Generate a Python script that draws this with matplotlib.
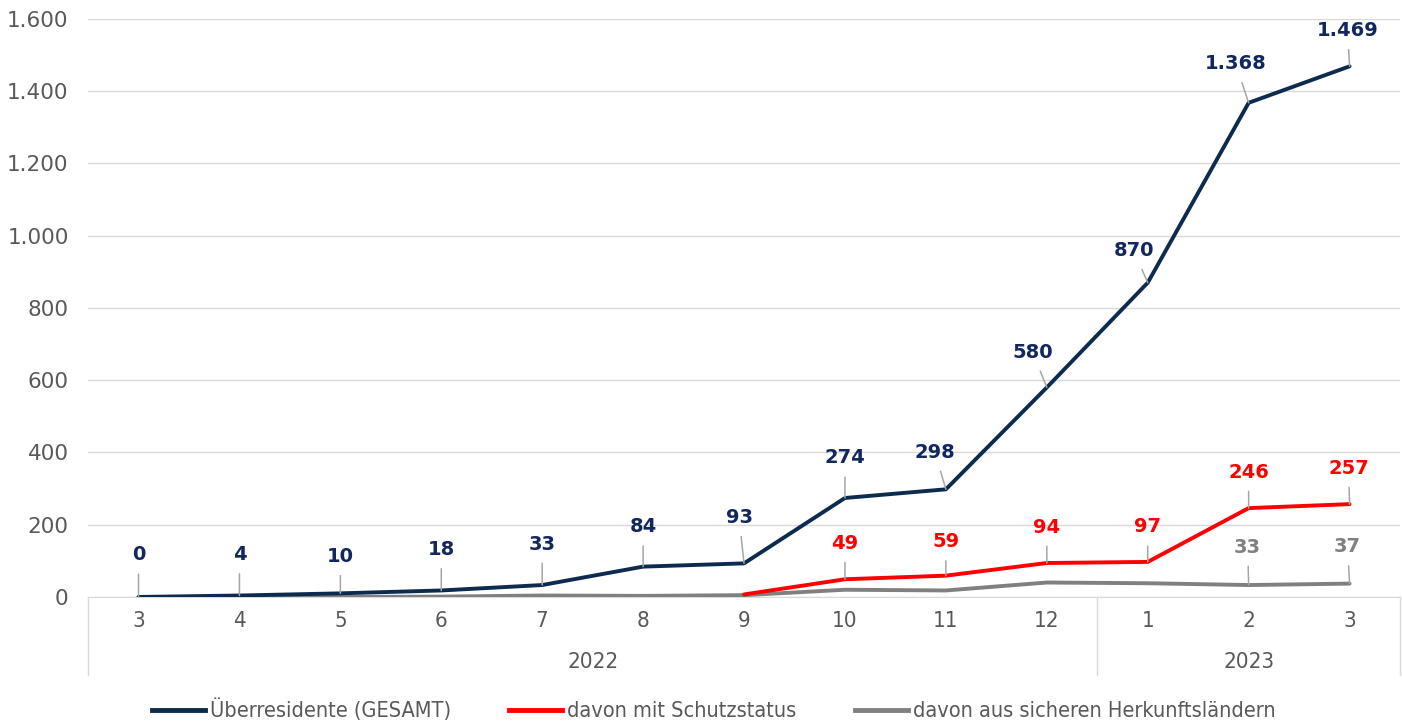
import numpy as np
import matplotlib
matplotlib.use("Agg")
import matplotlib.pyplot as plt
import matplotlib.transforms as mtransforms

# Monate Maerz 2022 bis Maerz 2023
months = ["3", "4", "5", "6", "7", "8", "9", "10", "11", "12", "1", "2", "3"]
years = ["2022", "2023"]
year_span = [(0, 9), (10, 12)]

gesamt = [0, 4, 10, 18, 33, 84, 93, 274, 298, 580, 870, 1368, 1469]
schutz = [np.nan, np.nan, np.nan, np.nan, np.nan, np.nan, 7, 49, 59, 94, 97, 246, 257]
sicher = [0, 0, 0, 1, 4, 3, 5, 20, 18, 40, 38, 33, 37]

# Label-Offsets (Pixel) fuer die Datenbeschriftungen
off_gesamt = [(0, 42), (0, 41), (0, 37), (0, 41), (0, 41), (0, 40), (-5, 46), (0, 40),
              (-11, 37), (-14, 35), (-14, 32), (-13, 39), (-2, 36)]
off_schutz = {7: (0, 36), 8: (0, 34), 9: (0, 36), 10: (0, 35), 11: (0, 36), 12: (-1, 36)}
off_sicher = {11: (-1, 38), 12: (-2, 37)}

c_navy = "#0d2b4f"
c_navy_txt = "#13275f"
c_red = "#ff0000"
c_grey = "#808080"
c_tick = "#595959"
c_lead = "#a6a6a6"

cond = dict(family="DejaVu Sans", stretch="condensed")

def de_fmt(v):
    return f"{int(v):,}".replace(",", ".")

fig = plt.figure(figsize=(14.02, 7.25), dpi=100)
ax = fig.add_axes([0.0628, 0.1766, 0.9358, 0.7972])
x = np.arange(len(months))

ax.plot(x, sicher, color=c_grey, lw=2.8, solid_capstyle="round", zorder=3)
ax.plot(x, schutz, color=c_red, lw=2.8, solid_capstyle="round", zorder=4)
ax.plot(x, gesamt, color=c_navy, lw=2.8, solid_capstyle="round", zorder=5)

def label(i, v, off, col):
    ax.annotate(de_fmt(v), xy=(i, v), xytext=off, textcoords="offset pixels",
                ha="center", va="center", fontsize=14, fontweight="bold", color=col,
                arrowprops=dict(arrowstyle="-", color=c_lead, lw=1.1,
                                shrinkA=5, shrinkB=0), zorder=6)

for i, v in enumerate(gesamt):
    label(i, v, off_gesamt[i], c_navy_txt)
for i, off in off_schutz.items():
    label(i, schutz[i], off, c_red)
for i, off in off_sicher.items():
    label(i, sicher[i], off, c_grey)

ax.set_xlim(-0.5, len(months) - 0.5)
ax.set_ylim(0, 1600)
yt = np.arange(0, 1601, 200)
ax.set_yticks(yt)
ax.set_yticklabels([de_fmt(t) for t in yt], fontsize=15.5, color=c_tick)
ax.set_xticks(x)
ax.set_xticklabels(months, fontsize=16, color=c_tick, **cond)
ax.tick_params(axis="both", length=0)
ax.tick_params(axis="x", pad=10)
ax.tick_params(axis="y", pad=14)
ax.grid(axis="y", color="#d9d9d9", lw=1)
ax.set_axisbelow(True)
for s in ["top", "right", "left"]:
    ax.spines[s].set_visible(False)
ax.spines["bottom"].set_color("#d9d9d9")

# Jahresgruppen unter der Kategorienachse
trans = mtransforms.blended_transform_factory(ax.transData, ax.transAxes)
for xb in [-0.5, 9.5, 12.5]:
    ax.plot([xb, xb], [0, -0.135], transform=trans, color="#d9d9d9", lw=1, clip_on=False)
for yr, (a, b) in zip(years, year_span):
    ax.text((a + b) / 2, -0.112, yr, transform=trans, ha="center", va="center",
            fontsize=16, color=c_tick, **cond)

h1, = ax.plot([], [], color=c_navy, lw=3.5)
h2, = ax.plot([], [], color=c_red, lw=3.5)
h3, = ax.plot([], [], color=c_grey, lw=3.5)
fig.legend([h1, h2, h3], ["Überresidente (GESAMT)", "davon mit Schutzstatus",
                          "davon aus sicheren Herkunftsländern"],
           loc="center", bbox_to_anchor=(0.509, 0.021), ncol=3, frameon=False,
           prop=dict(size=15.6, **cond), labelcolor=c_tick, handlelength=2.45,
           handletextpad=0.23, columnspacing=2.7, borderpad=0)

fig.savefig("out.png", dpi=100)
